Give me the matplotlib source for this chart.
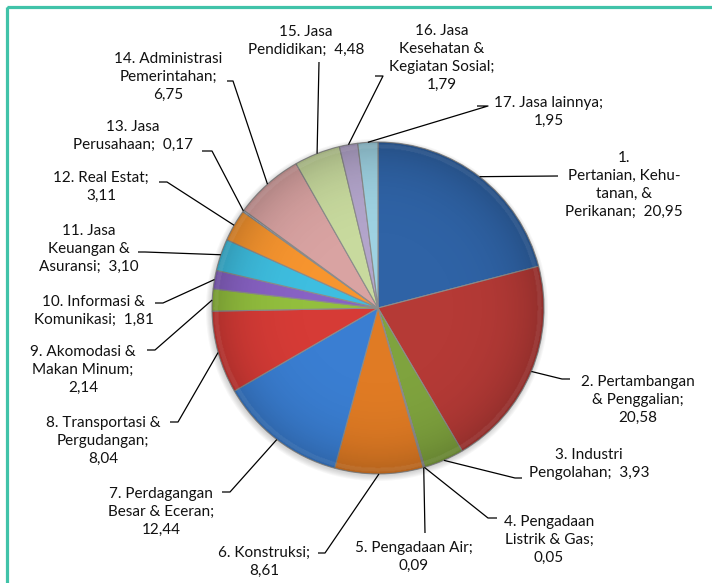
import numpy as np
import matplotlib.pyplot as plt
from matplotlib.patches import Circle, Rectangle

# data (PDRB share per sektor, %)
names = ['1.\nPertanian, Kehu-\ntanan, &\nPerikanan;', '2. Pertambangan\n& Penggalian;',
         '3. Industri\nPengolahan;', '4. Pengadaan\nListrik & Gas;', '5. Pengadaan Air;',
         '6. Konstruksi;', '7. Perdagangan\nBesar & Eceran;', '8. Transportasi &\nPergudangan;',
         '9. Akomodasi &\nMakan Minum;', '10. Informasi &\nKomunikasi;',
         '11. Jasa\nKeuangan &\nAsuransi;', '12. Real Estat;', '13. Jasa\nPerusahaan;',
         '14. Administrasi\nPemerintahan;', '15. Jasa\nPendidikan;',
         '16. Jasa\nKesehatan &\nKegiatan Sosial;', '17. Jasa lainnya;']
values = [20.95, 20.58, 3.93, 0.05, 0.09, 8.61, 12.44, 8.04, 2.14, 1.81,
          3.10, 3.11, 0.17, 6.75, 4.48, 1.79, 1.95]
seps = ['  ', '\n', '  ', '\n', '\n', '\n', '\n', '\n', '\n', '  ',
        '  ', '\n', '  ', '\n', '  ', '\n', '\n']
colors = ['#2F63A6', '#B53A36', '#7FA33E', '#7A5A9E', '#3CA7C4', '#E07B24',
          '#3A7ED2', '#D63B36', '#93BF3E', '#8862C4', '#3EBEE0', '#F7952F',
          '#A9C1E4', '#D9A3A2', '#C8DA9E', '#B3A5CB', '#9ED2E2']

# layout (pixels)
cx, cy, R = 378, 308, 166
text_pos = [(624, 185), (638, 400), (589, 464), (549, 540), (414, 557), (264, 562),
            (161, 512), (103, 441), (83, 370), (94, 311), (89, 249), (101, 187),
            (133, 136), (168, 77), (306, 41), (442, 58), (549, 112)]
knees = [(558, 176), (562, 379), (515, 478), (488, 518), (425, 533), (325, 553),
         (230, 492), (178, 422), (155, 350), (163, 303), (145, 252), (167, 182),
         (212, 151), (233, 81), (319, 62), (383, 76), (488, 106)]
ends = [(558, 176), (570, 379), (522, 478), (497, 518), (425, 533), (318, 553),
        (222, 492), (170, 422), (147, 350), (155, 303), (138, 252), (159, 182),
        (202, 151), (227, 81), (319, 62), (375, 76), (477, 106)]

plt.rcParams['font.family'] = ['Lato', 'DejaVu Sans']

fig = plt.figure(figsize=(7.12, 5.83), dpi=100)
ax = fig.add_axes([0, 0, 1, 1])

# soft shadow
for k in range(6):
    ax.add_patch(Circle((cx - 1, cy + 2), R + 5 - k, color='#7a7a7a', alpha=0.06, lw=0, zorder=1))

wedges, _ = ax.pie(values, colors=colors, startangle=-90, counterclock=True,
                   center=(cx, cy), radius=R,
                   wedgeprops=dict(edgecolor='#8c8c8c', linewidth=0.8))
for w in wedges:
    w.set_zorder(2)

# radial shading over the pie
n = 400
yy, xx = np.mgrid[-1:1:n * 1j, -1:1:n * 1j]
rr = np.sqrt(xx ** 2 + yy ** 2)
shade = np.zeros((n, n, 4))
shade[..., 3] = np.clip(0.2 * (rr ** 5), 0, 0.2)
img = ax.imshow(shade, extent=(cx - R, cx + R, cy + R, cy - R), zorder=3, interpolation='bilinear')
img.set_clip_path(Circle((cx, cy), R, transform=ax.transData))
rim = np.zeros((n, n, 4))
rim[..., :3] = 1
rim[..., 3] = np.where((rr > 0.965) & (rr < 0.99), 0.07, 0)
img2 = ax.imshow(rim, extent=(cx - R, cx + R, cy + R, cy - R), zorder=3, interpolation='bilinear')
img2.set_clip_path(Circle((cx, cy), R, transform=ax.transData))

# labels and leader lines
for i, w in enumerate(wedges):
    th = np.deg2rad((w.theta1 + w.theta2) / 2)
    sx = cx + R * np.cos(th)
    sy = cy + R * np.sin(th)
    kx, ky = knees[i]
    ex, ey = ends[i]
    ax.plot([sx, kx, ex], [sy, ky, ey], color='black', lw=0.9, zorder=4,
            solid_capstyle='butt')
    txt = names[i] + seps[i] + f'{values[i]:.2f}'.replace('.', ',')
    tx, ty = text_pos[i]
    ax.text(tx, ty, txt, ha='center', va='center', multialignment='center',
            fontsize=11, linespacing=1.38, color='#111111', zorder=5)

# teal frame
ax.add_patch(Rectangle((6.5, 6.5), 720, 600, fill=False, edgecolor='#41C3A9', lw=2.3, zorder=6))

ax.set_xlim(0, 712)
ax.set_ylim(583, 0)
ax.set_aspect('equal')
ax.axis('off')

fig.savefig('out.png', dpi=100)
